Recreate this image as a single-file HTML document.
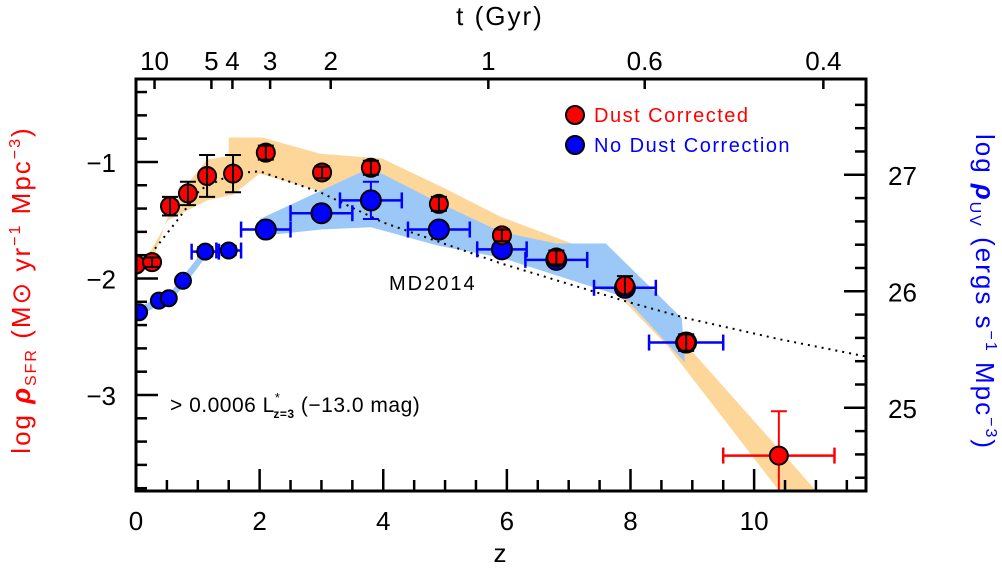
<!DOCTYPE html>
<html><head><meta charset="utf-8">
<style>
html,body{margin:0;padding:0;background:#fff;}
svg{display:block;font-family:"Liberation Sans",sans-serif;}
</style></head>
<body>
<svg id="chart" width="1002" height="568" viewBox="0 0 1002 568" xmlns="http://www.w3.org/2000/svg">
  <g id="bands"></g>
  <g id="model"></g>
  <g id="points"></g>
  <g id="axes"></g>
  <text x="500" y="25" font-size="26" letter-spacing="2" text-anchor="middle">t (Gyr)</text>
  <text x="500" y="562" font-size="26" text-anchor="middle">z</text>
  <text transform="translate(30,290) rotate(-90)" font-size="26" letter-spacing="2" fill="#f00" text-anchor="middle">log <tspan font-style="italic" font-weight="bold">ρ</tspan><tspan font-size="16" dy="6">SFR</tspan><tspan dy="-6"> (M⊙ yr</tspan><tspan font-size="16" dy="-10">−1</tspan><tspan dy="10"> Mpc</tspan><tspan font-size="16" dy="-10">−3</tspan><tspan dy="10">)</tspan></text>
  <text transform="translate(976,292) rotate(90)" font-size="26" letter-spacing="2" fill="#00f" text-anchor="middle">log <tspan font-style="italic" font-weight="bold">ρ</tspan><tspan font-size="16" dy="6">UV</tspan><tspan dy="-6"> (ergs s</tspan><tspan font-size="16" dy="-10">−1</tspan><tspan dy="10"> Mpc</tspan><tspan font-size="16" dy="-10">−3</tspan><tspan dy="10">)</tspan></text>
  <g>
    <circle cx="575" cy="115" r="9" fill="#f00" stroke="#000" stroke-width="2"/>
    <text x="594" y="122" font-size="20" letter-spacing="1.5" fill="#f00">Dust Corrected</text>
    <circle cx="575" cy="145" r="9" fill="#00f" stroke="#000" stroke-width="2"/>
    <text x="594" y="152" font-size="20" letter-spacing="1.5" fill="#00f">No Dust Correction</text>
  </g>
  <text x="389" y="290" font-size="20" letter-spacing="2">MD2014</text>
  <text x="170" y="412" font-size="21" letter-spacing="0.5">&gt; 0.0006 L<tspan font-size="13" dy="-10">*</tspan><tspan font-size="12" dy="16" font-weight="bold" dx="-7">z=3</tspan><tspan dy="-6"> (−13.0 mag)</tspan></text>
</svg>
<script>
// ---- data ----
const redZ   = [0.0, 0.26, 0.55, 0.84, 1.15, 1.57, 2.10, 3.01, 3.80, 4.90, 5.92, 6.80, 7.91, 8.90];
const redY   = [-1.88, -1.86, -1.38, -1.27, -1.12, -1.10, -0.92, -1.09, -1.05, -1.36, -1.63, -1.82, -2.06, -2.55];
const redErr = [0.0, 0.04, 0.08, 0.1, 0.18, 0.16, 0.06, 0.05, 0.06, 0.06, 0.05, 0.06, 0.08, 0.07];
const blueZ    = [0.05, 0.37, 0.53, 0.76, 1.12, 1.50, 2.10, 3.00, 3.80, 4.90, 5.92, 6.80, 7.91, 8.90];
const blueY    = [-2.29, -2.19, -2.17, -2.02, -1.77, -1.76, -1.58, -1.44, -1.33, -1.58, -1.75, -1.84, -2.08, -2.55];
const blueXErr = [0, 0, 0, 0, 0.22, 0.2, 0.4, 0.5, 0.5, 0.5, 0.4, 0.5, 0.5, 0.6];
const blueYErr = [0, 0, 0, 0, 0.04, 0.04, 0, 0.04, 0.16, 0.04, 0.04, 0.04, 0.04, 0.07];
const hzZ = [10.4], hzY = [-3.52], hzXLo = [0.9], hzXHi = [0.9], hzYHi = [0.38], hzYLo = [0.5];
const orangeBandZ = [0.0, 0.3, 0.55, 0.85, 1.15, 1.5, 1.5, 2.04, 2.98, 3.98, 4.97, 5.9, 7.05, 8.7, 11.0, 10.4, 8.6, 7.8, 5.9, 3.8, 3.1, 2.0, 1.57, 1.15, 0.52, 0.06, 0.0];
const orangeBandY = [-1.86, -1.80, -1.42, -1.18, -0.98, -0.95, -0.79, -0.79, -0.93, -0.97, -1.22, -1.47, -1.70, -2.45, -3.82, -3.82, -2.58, -2.14, -1.80, -1.50, -1.27, -1.10, -1.28, -1.33, -1.50, -1.93, -1.93];
const blueBandZ = [2.0, 3.79, 4.9, 5.9, 6.8, 7.6, 8.83, 8.88, 7.9, 5.9, 4.9, 3.8, 3.0, 2.1];
const blueBandY = [-1.49, -1.05, -1.35, -1.60, -1.70, -1.70, -2.34, -2.72, -2.16, -1.82, -1.72, -1.56, -1.58, -1.63];
const lowBlueZ = [0.0, 0.37, 0.53, 0.76, 1.12, 1.15, 0.78, 0.53, 0.37, 0.0];
const lowBlueY = [-2.26, -2.16, -2.14, -1.98, -1.74, -1.80, -2.06, -2.21, -2.23, -2.34];
const modelZ = [0.0, 0.3, 0.67, 1.03, 1.57, 2.0, 2.98, 4.0, 5.9, 7.95, 8.9, 10.4, 11.81];
const modelY = [-1.92, -1.75, -1.50, -1.24, -1.10, -1.08, -1.26, -1.52, -1.87, -2.20, -2.34, -2.52, -2.67];
const xTicks = [0, 2, 4, 6, 8, 10];
const yTicks = [-1, -2, -3];
const rTicks = [27, 26, 25];
const ageLabels = ["10", "5", "4", "3", "2", "1", "0.6", "0.4"];
const ageZ = [0.30, 1.22, 1.56, 2.17, 3.15, 5.7, 8.23, 11.12];

// ---- scales ----
const X0 = 136, X1 = 866, Y0 = 79, Y1 = 491;
const zMax = 11.81, yTop = -0.288, yBot = -3.824;
const sx = z => X0 + (z / zMax) * (X1 - X0);
const sy = v => Y0 + (yTop - v) / (yTop - yBot) * (Y1 - Y0);
const rOff = -28.11;
const NS = "http://www.w3.org/2000/svg";
function mk(tag, attrs, parent) {
  const e = document.createElementNS(NS, tag);
  for (const k in attrs) e.setAttribute(k, attrs[k]);
  parent.appendChild(e);
  return e;
}
const gB = document.getElementById('bands'), gM = document.getElementById('model'),
      gP = document.getElementById('points'), gA = document.getElementById('axes');
const svg = document.getElementById('chart');

const defs = mk('defs', {}, svg);
const cp = mk('clipPath', {id: 'plotclip'}, defs);
mk('rect', {x: X0, y: Y0, width: X1 - X0, height: Y1 - Y0}, cp);
gB.setAttribute('clip-path', 'url(#plotclip)');
gM.setAttribute('clip-path', 'url(#plotclip)');
gP.setAttribute('clip-path', 'url(#plotclip)');

function poly(zs, ys) { return zs.map((z, i) => sx(z).toFixed(1) + ',' + sy(ys[i]).toFixed(1)).join(' '); }
const ob = mk('polygon', {points: poly(orangeBandZ, orangeBandY), fill: '#fdd69a'}, gB);


const bb = mk('polygon', {points: poly(blueBandZ, blueBandY), fill: '#9cc8f8'}, gB);


const lb = mk('polygon', {points: poly(lowBlueZ, lowBlueY), fill: '#9cc8f8'}, gB);



const ml = mk('polyline', {points: poly(modelZ, modelY), fill: 'none', stroke: '#000', 'stroke-width': 2, 'stroke-dasharray': '2,5'}, gM);



function errY(g, x, ylo, yhi, col, cap) {
  mk('line', {x1: x, x2: x, y1: ylo, y2: yhi, stroke: col, 'stroke-width': 2}, g);
  mk('line', {x1: x - cap, x2: x + cap, y1: ylo, y2: ylo, stroke: col, 'stroke-width': 2}, g);
  mk('line', {x1: x - cap, x2: x + cap, y1: yhi, y2: yhi, stroke: col, 'stroke-width': 2}, g);
}
function errX(g, y, xlo, xhi, col, cap) {
  mk('line', {x1: xlo, x2: xhi, y1: y, y2: y, stroke: col, 'stroke-width': 2.5}, g);
  mk('line', {x1: xlo, x2: xlo, y1: y - cap, y2: y + cap, stroke: col, 'stroke-width': 2.5}, g);
  mk('line', {x1: xhi, x2: xhi, y1: y - cap, y2: y + cap, stroke: col, 'stroke-width': 2.5}, g);
}

blueZ.forEach((z, i) => {
  const g = mk('g', {}, gP);
  
  
  const cx = sx(z), cy = sy(blueY[i]);
  if (blueXErr[i] > 0) errX(g, cy, sx(z - blueXErr[i]), sx(z + blueXErr[i]), '#00f', 8);
  if (blueYErr[i] > 0) errY(g, cx, sy(blueY[i] - blueYErr[i]), sy(blueY[i] + blueYErr[i]), '#00f', 8);
  mk('circle', {cx: cx, cy: cy, r: z < 1.8 ? 8 : 10, fill: '#00f', stroke: '#000', 'stroke-width': 2}, g);
});
redZ.forEach((z, i) => {
  const g = mk('g', {}, gP);
  
  
  const cx = sx(z), cy = sy(redY[i]);
  mk('circle', {cx: cx, cy: cy, r: 9, fill: '#f00', stroke: '#000', 'stroke-width': 2}, g);
  if (redErr[i] > 0) errY(g, cx, sy(redY[i] - redErr[i]), sy(redY[i] + redErr[i]), '#000', 8);
});
hzZ.forEach((z, i) => {
  const g = mk('g', {}, gP);
  
  
  const cx = sx(z), cy = sy(hzY[i]);
  errX(g, cy, sx(z - hzXLo[i]), sx(z + hzXHi[i]), '#f00', 8);
  errY(g, cx, sy(hzY[i] - hzYLo[i]), sy(hzY[i] + hzYHi[i]), '#f00', 8);
  mk('circle', {cx: cx, cy: cy, r: 9, fill: '#f00', stroke: '#000', 'stroke-width': 2}, g);
});

const fr = mk('rect', {x: X0, y: Y0, width: X1 - X0, height: Y1 - Y0, fill: 'none', stroke: '#000', 'stroke-width': 3}, gA);


for (let z = 0.5; z < zMax; z += 0.5) {
  const major = Math.abs(z - Math.round(z / 2) * 2) < 1e-6;
  const tk = mk('line', {x1: sx(z), x2: sx(z), y1: Y1, y2: Y1 - (major ? 22 : 11), stroke: '#000', 'stroke-width': 2.5}, gA);
  
  
}
xTicks.forEach(v => {
  const t = mk('text', {x: sx(v), y: Y1 + 39, 'font-size': 26, 'text-anchor': 'middle'}, gA);
  
  
  t.textContent = v;
});
for (let k = 0; k < 20; k++) {
  const v = -0.4 - 0.2 * k;
  if (v < yBot) break;
  const major = Math.abs(v - Math.round(v)) < 1e-6;
  const tk = mk('line', {x1: X0, x2: X0 + (major ? 22 : 11), y1: sy(v), y2: sy(v), stroke: '#000', 'stroke-width': 2.5}, gA);
  
  
}
yTicks.forEach(v => {
  const t = mk('text', {x: X0 - 20, y: sy(v) + 10, 'font-size': 26, 'text-anchor': 'end'}, gA);
  
  
  t.textContent = '−' + Math.abs(v);
});
for (let k = 0; k < 20; k++) {
  const r = 27.6 - 0.2 * k;
  const v = r + rOff;
  if (v < yBot) break;
  if (v > yTop) continue;
  const major = Math.abs(r - Math.round(r)) < 1e-6;
  const tk = mk('line', {x1: X1, x2: X1 - (major ? 22 : 11), y1: sy(v), y2: sy(v), stroke: '#000', 'stroke-width': 2.5}, gA);
  
  
}
rTicks.forEach(r => {
  const t = mk('text', {x: X1 + 22, y: sy(r + rOff) + 10, 'font-size': 26}, gA);
  
  
  t.textContent = r;
});
ageZ.forEach((z, i) => {
  const tk = mk('line', {x1: sx(z), x2: sx(z), y1: Y0, y2: Y0 + 10, stroke: '#000', 'stroke-width': 2.5}, gA);
  
  
  const t = mk('text', {x: sx(z), y: Y0 - 9, 'font-size': 26, 'text-anchor': 'middle'}, gA);
  
  
  t.textContent = ageLabels[i];
});
</script>
</body></html>
